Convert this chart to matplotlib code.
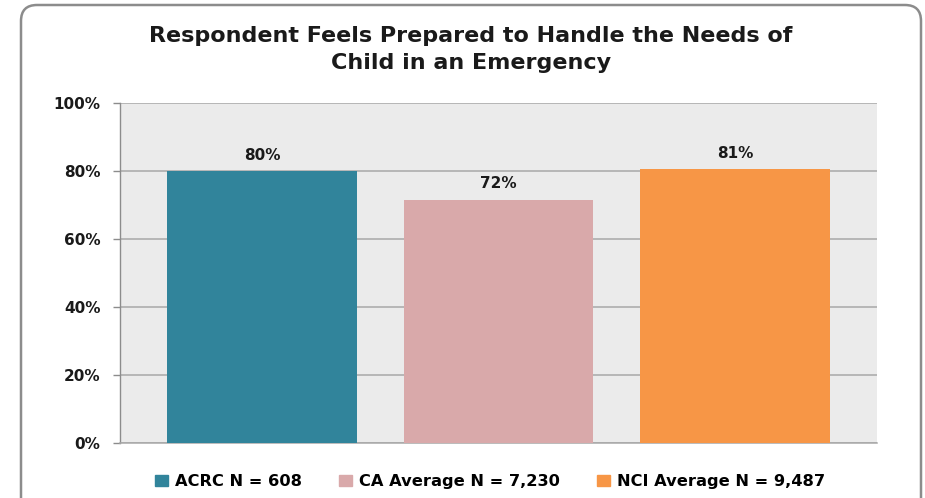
import matplotlib
matplotlib.use("Agg")
import matplotlib.pyplot as plt
import matplotlib.patches as mpatches
import matplotlib.transforms as mtransforms
from matplotlib.ticker import PercentFormatter

# data
groups = ["ACRC N = 608", "CA Average N = 7,230", "NCI Average N = 9,487"]
values = [80.0, 71.6, 80.5]
value_labels = ["80%", "72%", "81%"]
colors = ["#31849b", "#d9a9aa", "#f79646"]
y_ticks = [0, 20, 40, 60, 80, 100]

title = "Respondent Feels Prepared to Handle the Needs of\nChild in an Emergency"

plt.rcParams["font.family"] = "DejaVu Sans"

fig = plt.figure(figsize=(9.25, 4.98), dpi=100)

# rounded outer frame (pixel coordinates)
frame = mpatches.FancyBboxPatch((21, -30), 900, 523,
                                boxstyle="round,pad=0,rounding_size=16",
                                transform=mtransforms.IdentityTransform(),
                                facecolor="none", edgecolor="#8c8c8c",
                                linewidth=1.8, zorder=5)
fig.patches.append(frame)

ax = fig.add_axes([0.1297, 0.1104, 0.8183, 0.6826])
ax.set_facecolor("#ebebeb")

x = range(len(groups))
bars = ax.bar(x, values, width=0.8, color=colors, zorder=3)

for b, lab in zip(bars, value_labels):
    ax.text(b.get_x() + b.get_width() / 2, b.get_height() + 2.5, lab,
            ha="center", va="bottom", fontsize=11, fontweight="bold",
            color="#1a1a1a")

ax.set_xlim(-0.6, 2.6)
ax.set_ylim(0, 100)
ax.set_yticks(y_ticks)
ax.yaxis.set_major_formatter(PercentFormatter(decimals=0))
ax.set_xticks([])
ax.grid(axis="y", color="#a8a8a8", linewidth=1.1, zorder=1)
ax.set_axisbelow(True)

for s in ["top", "right"]:
    ax.spines[s].set_visible(False)
ax.spines["left"].set_color("#8c8c8c")
ax.spines["bottom"].set_color("#a8a8a8")
ax.spines["left"].set_linewidth(1.0)
ax.spines["bottom"].set_linewidth(1.1)

ax.tick_params(axis="y", length=5, width=1.0, color="#8c8c8c", pad=9,
               labelsize=11)
for t in ax.get_yticklabels():
    t.set_fontweight("bold")
    t.set_color("#1a1a1a")

fig.text(0.509, 0.901, title, ha="center", va="center", fontsize=16,
         fontweight="bold", color="#1a1a1a", linespacing=1.45)

handles = [mpatches.Patch(color=c, label=g) for c, g in zip(colors, groups)]
fig.legend(handles=handles, loc="center", bbox_to_anchor=(0.53, 0.033),
           ncol=3, frameon=False, handlelength=0.8, handleheight=0.67,
           handletextpad=0.43, columnspacing=2.3,
           prop={"weight": "bold", "size": 11.7})

fig.savefig("out.png", dpi=100)
